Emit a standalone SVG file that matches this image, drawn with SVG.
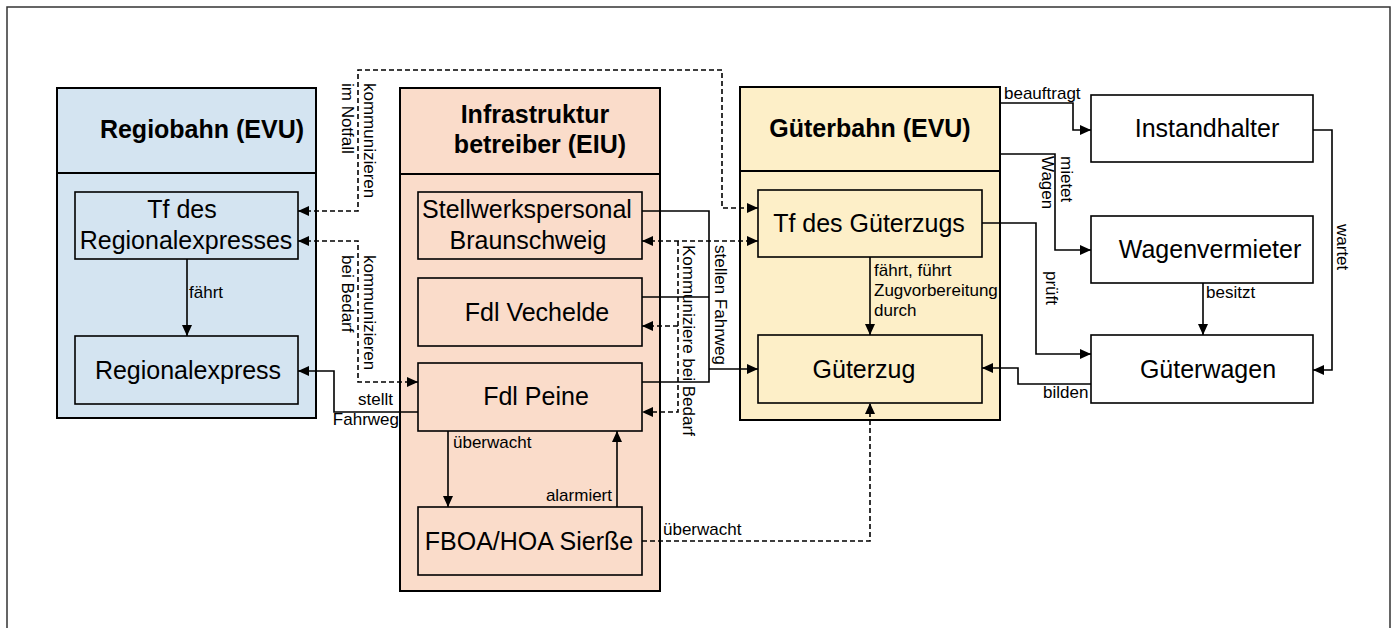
<svg xmlns="http://www.w3.org/2000/svg" width="1395" height="628" viewBox="0 0 1395 628">
<style>
text{font-family:"Liberation Sans",Arial,sans-serif;fill:#000}
.t{font-size:25px;text-anchor:middle}
.h{font-size:25px;font-weight:bold;text-anchor:middle}
.l{font-size:17px}
.box{stroke:#000;stroke-width:1.6}
.cont{stroke:#000;stroke-width:2}
.c{fill:none;stroke:#000;stroke-width:1.6}
.d{fill:none;stroke:#000;stroke-width:1.6;stroke-dasharray:5 3}
.blue{fill:#d4e4f1}.sal{fill:#fadcca}.yel{fill:#fdefc8}.wht{fill:#fff}
</style>
<defs>
<marker id="a" markerUnits="userSpaceOnUse" markerWidth="12" markerHeight="10" refX="11" refY="5" orient="auto-start-reverse">
<path d="M0,0 L11,5 L0,10 z" fill="#000"/>
</marker>
</defs>
<rect x="7" y="7" width="1383" height="640" fill="#fff" stroke="#333" stroke-width="1.5"/>

<g id="regiobahn">
<rect class="cont blue" x="57" y="88" width="259" height="330"/>
<line class="cont" x1="57" y1="173" x2="316" y2="173"/>
<text class="h" x="202" y="138">Regiobahn (EVU)</text>
</g>
<g id="infrastruktur">
<rect class="cont sal" x="400" y="88" width="260" height="503"/>
<line class="cont" x1="400" y1="174" x2="660" y2="174"/>
<text class="h" x="535" y="123">Infrastruktur</text>
<text class="h" x="540" y="153">betreiber (EIU)</text>
</g>
<g id="gueterbahn">
<rect class="cont yel" x="740" y="87" width="260" height="333"/>
<line class="cont" x1="740" y1="171" x2="1000" y2="171"/>
<text class="h" x="870" y="137">Güterbahn (EVU)</text>
</g>

<g id="tf-regio">
<rect class="box blue" x="75" y="192" width="223" height="67"/>
<text class="t" x="182" y="218">Tf des</text>
<text class="t" x="186" y="249">Regionalexpresses</text>
</g>
<g id="regionalexpress">
<rect class="box blue" x="75" y="336" width="223" height="68"/>
<text class="t" x="188" y="379">Regionalexpress</text>
</g>
<g id="stellwerk">
<rect class="box sal" x="418" y="192" width="224" height="67"/>
<text class="t" x="527" y="218">Stellwerkspersonal</text>
<text class="t" x="528" y="249">Braunschweig</text>
</g>
<g id="vechelde">
<rect class="box sal" x="418" y="278" width="224" height="68"/>
<text class="t" x="537" y="321">Fdl Vechelde</text>
</g>
<g id="peine">
<rect class="box sal" x="418" y="363" width="224" height="68"/>
<text class="t" x="536" y="405">Fdl Peine</text>
</g>
<g id="fboa">
<rect class="box sal" x="418" y="507" width="224" height="68"/>
<text class="t" x="529" y="550">FBOA/HOA Sierße</text>
</g>
<g id="tf-gueter">
<rect class="box yel" x="758" y="190" width="224" height="67"/>
<text class="t" x="869" y="232">Tf des Güterzugs</text>
</g>
<g id="gueterzug">
<rect class="box yel" x="758" y="335" width="224" height="68"/>
<text class="t" x="864" y="378">Güterzug</text>
</g>
<g id="instandhalter">
<rect class="box wht" x="1091" y="95" width="222" height="67"/>
<text class="t" x="1207" y="137">Instandhalter</text>
</g>
<g id="wagenvermieter">
<rect class="box wht" x="1091" y="216" width="222" height="67"/>
<text class="t" x="1210" y="258">Wagenvermieter</text>
</g>
<g id="gueterwagen">
<rect class="box wht" x="1091" y="335" width="222" height="68"/>
<text class="t" x="1208" y="378">Güterwagen</text>
</g>

<g id="connectors">
<path class="c" d="M187,259 V336" marker-end="url(#a)"/>
<text class="l" x="189" y="298">fährt</text>

<path class="c" d="M870,257 V335" marker-end="url(#a)"/>
<text class="l" x="874" y="276">fährt, führt</text>
<text class="l" x="874" y="296">Zugvorbereitung</text>
<text class="l" x="874" y="316">durch</text>

<path class="c" d="M448,431 V507" marker-end="url(#a)"/>
<text class="l" x="453" y="448">überwacht</text>
<path class="c" d="M617,507 V431" marker-end="url(#a)"/>
<text class="l" x="612" y="501" text-anchor="end">alarmiert</text>

<path class="d" d="M642,541 H870 V403" marker-end="url(#a)"/>
<text class="l" x="663" y="535">überwacht</text>

<path class="c" d="M1000,103 H1073 V130 H1091" marker-end="url(#a)"/>
<text class="l" x="1004" y="99">beauftragt</text>
<path class="c" d="M1000,154 H1055 V250 H1091" marker-end="url(#a)"/>
<text class="l" transform="translate(1061,156) rotate(90)">mietet<tspan x="0" dy="19">Wagen</tspan></text>
<path class="c" d="M982,223 H1036 V354 H1091" marker-end="url(#a)"/>
<text class="l" transform="translate(1046,271) rotate(90)">prüft</text>
<path class="c" d="M1203,283 V335" marker-end="url(#a)"/>
<text class="l" x="1206" y="298">besitzt</text>
<path class="c" d="M1313,130 H1332 V370 H1313" marker-end="url(#a)"/>
<text class="l" transform="translate(1337,224) rotate(90)">wartet</text>
<path class="c" d="M1091,384 H1018 V368 H982" marker-end="url(#a)"/>
<text class="l" x="1043" y="398">bilden</text>

<path class="d" d="M298,211 H358 V70 H722 V208 H758" marker-start="url(#a)" marker-end="url(#a)"/>
<text class="l" transform="translate(364,83) rotate(90)">kommunizieren<tspan x="0" dy="22">im Notfall</tspan></text>
<path class="d" d="M298,241 H358 V382 H418" marker-start="url(#a)" marker-end="url(#a)"/>
<text class="l" transform="translate(364,255) rotate(90)">kommunizieren<tspan x="0" dy="22">bei Bedarf</tspan></text>

<path class="d" d="M642,241 H758" marker-start="url(#a)" marker-end="url(#a)"/>
<path class="d" d="M678,241 V412 H642" marker-end="url(#a)"/>
<path class="d" d="M678,326 H642" marker-end="url(#a)"/>
<text class="l" transform="translate(683,245) rotate(90)">Kommuniziere bei Bedarf</text>

<path class="c" d="M642,211 H709 V382 H642"/>
<path class="c" d="M642,297 H709"/>
<path class="c" d="M709,369 H758" marker-end="url(#a)"/>
<text class="l" transform="translate(715,245) rotate(90)">stellen Fahrweg</text>

<path class="c" d="M418,412 H334 V371 H298" marker-end="url(#a)"/>
<text class="l" x="393" y="405" text-anchor="end">stellt</text>
<text class="l" x="399" y="425" text-anchor="end">Fahrweg</text>
</g>
</svg>
